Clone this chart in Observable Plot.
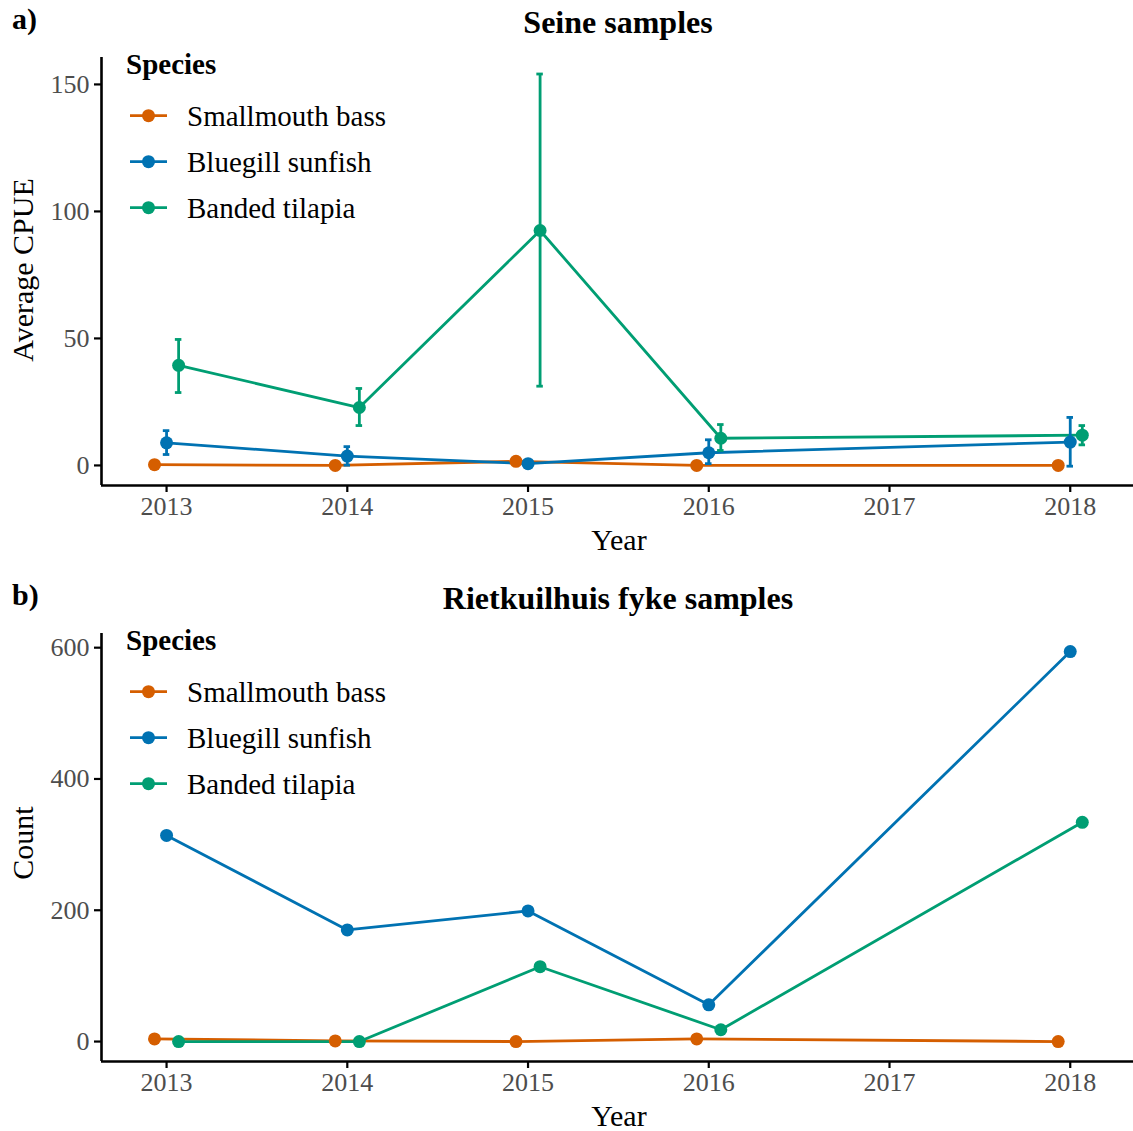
<!DOCTYPE html>
<html><head><meta charset="utf-8">
<script src="https://cdn.jsdelivr.net/npm/d3@7"></script>
<script src="https://cdn.jsdelivr.net/npm/@observablehq/plot@0.6"></script>
<style>
body{margin:0;background:#fff}
#root{position:relative;width:1133px;height:1131px;background:#fff;overflow:hidden}
.panel{position:absolute;left:0}
#overlay{position:absolute;left:0;top:0;pointer-events:none}
g[aria-label="x-axis tick label"], g[aria-label="y-axis tick label"]{fill:#4d4d4d}
</style></head><body><div id="root"></div>
<script>
// ---- data ----
const years = [2013, 2014, 2015, 2016, 2018];
const species = ["Smallmouth bass", "Bluegill sunfish", "Banded tilapia"];
const colors = ["#D55E00", "#0072B2", "#009E73"];
const dodge = [-0.0667, 0, 0.0667];
const xTicks = [2013, 2014, 2015, 2016, 2017, 2018];

// Seine samples: average CPUE with error bars
const seineSmallmouth = [0.3, 0.0, 1.6, 0.0, 0.0];
const seineBluegill   = [8.9, 3.7, 0.7, 5.0, 9.2];
const seineTilapia    = [39.4, 22.8, 92.5, 10.7, 11.9];
const seineBluegillLo = [4.3, 0.1, 0.2, 0.7, -0.3];
const seineBluegillHi = [13.7, 7.4, 1.2, 10.1, 18.9];
const seineTilapiaLo  = [28.7, 15.7, 31.2, 5.9, 8.1];
const seineTilapiaHi  = [49.6, 30.3, 154.1, 16.1, 15.7];
const seineTicks = [0, 50, 100, 150];

// Rietkuilhuis fyke samples: counts
const fykeSmallmouth = [4, 1, 0, 4, 0];
const fykeBluegill   = [314, 170, 199, 56, 594];
const fykeTilapia    = [0, 0, 114, 18, 334];
const fykeTicks = [0, 200, 400, 600];

// ---- tables ----
function build(series, los, his) {
  const rows = [];
  series.forEach((vals, s) => {
    vals.forEach((v, i) => {
      rows.push({
        species: species[s], year: years[i], x: years[i] + dodge[s], y: v,
        lo: los[s] ? los[s][i] : null, hi: his[s] ? his[s][i] : null
      });
    });
  });
  return rows;
}
const seineRows = build([seineSmallmouth, seineBluegill, seineTilapia],
  [null, seineBluegillLo, seineTilapiaLo], [null, seineBluegillHi, seineTilapiaHi]);
const fykeRows = build([fykeSmallmouth, fykeBluegill, fykeTilapia], [null, null, null], [null, null, null]);

const xDomain = [2012.64, 2018.35];
const cap = 0.018;
const lw = 2.8;

function panel(rows, yDomain, yTicks) {
  const err = rows.filter(d => d.lo != null);
  return Plot.plot({
    width: 1133, height: 530,
    marginTop: 57, marginBottom: 45, marginLeft: 101, marginRight: 0,
    style: {fontFamily: "'Liberation Serif', 'Times New Roman', serif", fontSize: "26px", background: "transparent", overflow: "visible"},
    x: {domain: xDomain, label: null},
    y: {domain: yDomain, label: null},
    color: {domain: species, range: colors},
    marks: [
      Plot.axisX({ticks: xTicks, tickFormat: d => String(d), tickSize: 7, tickPadding: 4, strokeWidth: 2.2, fontSize: 26, label: null}),
      Plot.axisY({ticks: yTicks, tickFormat: d => String(d), tickSize: 7, tickPadding: 5, strokeWidth: 2.2, fontSize: 26, label: null}),
      Plot.ruleX([xDomain[0]], {strokeWidth: 2.6, stroke: "black"}),
      Plot.ruleY([yDomain[0]], {strokeWidth: 2.6, stroke: "black"}),
      Plot.line(rows, {x: "x", y: "y", z: "species", stroke: "species", strokeWidth: lw}),
      Plot.ruleX(err, {x: "x", y1: "lo", y2: "hi", stroke: "species", strokeWidth: lw}),
      Plot.ruleY(err, {y: "hi", x1: d => d.x - cap, x2: d => d.x + cap, stroke: "species", strokeWidth: lw}),
      Plot.ruleY(err, {y: "lo", x1: d => d.x - cap, x2: d => d.x + cap, stroke: "species", strokeWidth: lw}),
      Plot.dot(rows, {x: "x", y: "y", fill: "species", r: 6.5})
    ]
  });
}

const root = document.getElementById("root");
const pa = panel(seineRows, [-7.9, 160.6], seineTicks);
pa.classList.add("panel"); pa.style.top = "0px";
root.appendChild(pa);
const off = 576;
const pb = panel(fykeRows, [-30.4, 621.6], fykeTicks);
pb.classList.add("panel"); pb.style.top = off + "px";
root.appendChild(pb);

// ---- overlay texts and legends ----
const svg = d3.select(root).append("svg").attr("id", "overlay")
  .attr("width", 1133).attr("height", 1131)
  .style("font-family", "'Liberation Serif', 'Times New Roman', serif");

function decorate(dy, tag, title, ylab, ycenter) {
  svg.append("text").attr("x", 12).attr("y", 29 + dy).attr("font-size", 30).attr("font-weight", "bold").text(tag);
  svg.append("text").attr("x", 618).attr("y", 33 + dy).attr("font-size", 32).attr("font-weight", "bold").attr("text-anchor", "middle").text(title);
  svg.append("text").attr("x", 619).attr("y", 550 + dy).attr("font-size", 30).attr("text-anchor", "middle").text("Year");
  svg.append("text").attr("transform", `translate(33,${ycenter + dy}) rotate(-90)`).attr("font-size", 30).attr("text-anchor", "middle").text(ylab);
  svg.append("text").attr("x", 126).attr("y", 74 + dy).attr("font-size", 29).attr("font-weight", "bold").text("Species");
  species.forEach((s, i) => {
    const yy = 115.7 + 46 * i + dy;
    svg.append("line").attr("x1", 130).attr("x2", 167).attr("y1", yy).attr("y2", yy).attr("stroke", colors[i]).attr("stroke-width", lw);
    svg.append("circle").attr("cx", 148.5).attr("cy", yy).attr("r", 6.5).attr("fill", colors[i]);
    svg.append("text").attr("x", 187).attr("y", yy + 10).attr("font-size", 29).text(s);
  });
}
decorate(0, "a)", "Seine samples", "Average CPUE", 270);
decorate(off, "b)", "Rietkuilhuis fyke samples", "Count", 267);
</script></body></html>
